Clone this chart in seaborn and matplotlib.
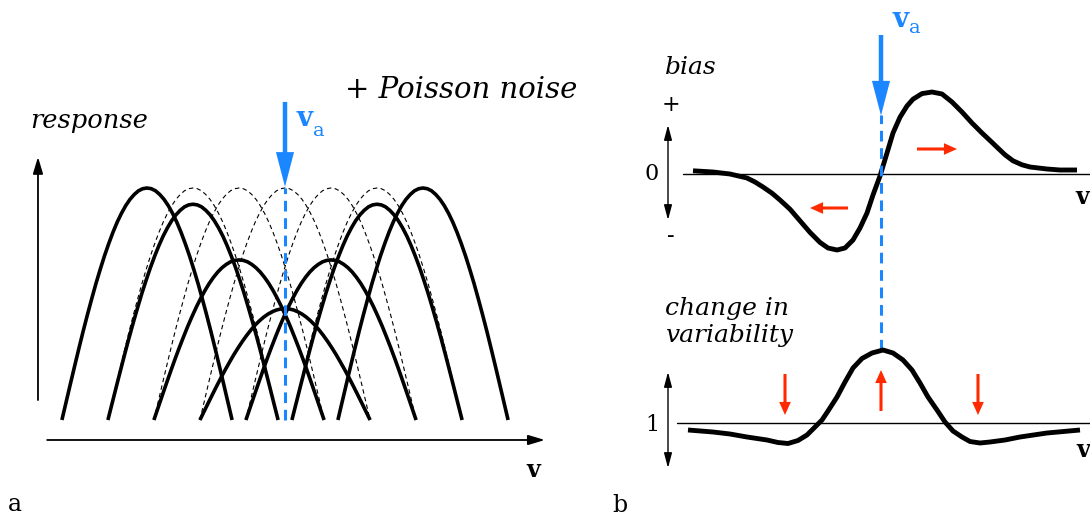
import numpy as np
import pandas as pd
import matplotlib
matplotlib.use("Agg")
import matplotlib.pyplot as plt
import seaborn as sns

# ---------------- data ----------------
# panel a: tuning curves, preferred stimuli in units of neuron spacing, adaptor v_a at 0
adapted_centers = [-3, -2, -1, 0, 1, 2, 3]
adapted_peaks = [1.00, 0.93, 0.69, 0.48, 0.69, 0.93, 1.00]
unadapted_centers = [-2, -1, 0, 1, 2]
unadapted_peaks = [1.00, 1.00, 1.00, 1.00, 1.00]
tuning_halfwidth = 1.85
profile_u = [-1.0, -0.95, -0.9, -0.85, -0.8, -0.75, -0.7, -0.65, -0.6, -0.55, -0.5,
             -0.45, -0.4, -0.35, -0.3, -0.25, -0.2, -0.15, -0.1, -0.05, 0.0,
             0.05, 0.1, 0.15, 0.2, 0.25, 0.3, 0.35, 0.4, 0.45, 0.5,
             0.55, 0.6, 0.65, 0.7, 0.75, 0.8, 0.85, 0.9, 0.95, 1.0]
profile_r = [0.000, 0.078, 0.156, 0.233, 0.309, 0.383, 0.454, 0.522, 0.588, 0.649, 0.707,
             0.760, 0.809, 0.853, 0.891, 0.924, 0.951, 0.972, 0.988, 0.997, 1.000,
             0.997, 0.988, 0.972, 0.951, 0.924, 0.891, 0.853, 0.809, 0.760, 0.707,
             0.649, 0.588, 0.522, 0.454, 0.383, 0.309, 0.233, 0.156, 0.078, 0.000]

# panel b (top): bias of the estimate as a function of v
bias_v = [-3.76, -3.36, -3.02, -2.68, -2.52, -2.36, -2.18, -2.02, -1.82, -1.62, -1.42,
          -1.22, -1.06, -0.88, -0.72, -0.56, -0.42, -0.28, -0.16, -0.02, 0.12, 0.24,
          0.38, 0.52, 0.64, 0.82, 1.02, 1.22, 1.42, 1.62, 1.82, 2.02, 2.22, 2.32, 2.48,
          2.64, 2.82, 2.98, 3.32, 3.58, 3.92]
bias_val = [0.04, 0.025, 0.00, -0.05, -0.10, -0.1625, -0.24, -0.325, -0.44, -0.585, -0.73,
            -0.855, -0.925, -0.95, -0.925, -0.825, -0.675, -0.4875, -0.2625, -0.025, 0.2625, 0.5125,
            0.71, 0.85, 0.935, 1.005, 1.025, 1.00, 0.90, 0.775, 0.6375, 0.5125, 0.395, 0.335, 0.24,
            0.165, 0.115, 0.0875, 0.0625, 0.05, 0.05]

# panel b (bottom): change in variability as a function of v
var_v = [-3.86, -3.36, -3.02, -2.68, -2.28, -2.06, -1.86, -1.66, -1.48, -1.32, -1.18,
         -1.06, -0.88, -0.72, -0.56, -0.38, -0.18, 0.04, 0.24, 0.44, 0.62, 0.78, 0.94,
         1.12, 1.28, 1.44, 1.62, 1.78, 1.98, 2.18, 2.48, 2.78, 3.32, 3.98]
var_val = [0.93, 0.91, 0.89, 0.86, 0.83, 0.805, 0.795, 0.825, 0.88, 0.96, 1.03,
           1.12, 1.26, 1.41, 1.55, 1.645, 1.70, 1.73, 1.70, 1.63, 1.53, 1.40, 1.26,
           1.13, 1.01, 0.92, 0.86, 0.815, 0.80, 0.81, 0.83, 0.86, 0.90, 0.93]

# text
panel_labels = ["a", "b"]
txt_response = "response"
txt_noise = "+ Poisson noise"
txt_bias = "bias"
txt_var = "change in\nvariability"
bias_ticks = ["+", "0", "-"]
var_tick = "1"
axis_label = "v"

# ---------------- style ----------------
sns.set_theme(style="white")
plt.rcParams["font.family"] = ["DejaVu Serif", "DejaVu Sans"]
plt.rcParams["text.color"] = "black"

BLUE = "#1a86ff"
RED = "#ff2a00"
W, H = 1090, 516
fig = plt.figure(figsize=(W / 100, H / 100), dpi=100)
fig.patch.set_facecolor("white")

line_kw = dict(sort=False, estimator=None, solid_joinstyle="round", solid_capstyle="butt")

# ---------------- panel a ----------------
axA = fig.add_axes([0, 0, 600 / W, 1])
axA.set_xlim(-285 / 46, 315 / 46)
axA.set_ylim(-96 / 232, 420 / 232)
axA.axis("off")

u = np.array(profile_u)
r = np.array(profile_r)
for c, p in zip(unadapted_centers, unadapted_peaks):
    sns.lineplot(x=c + u * tuning_halfwidth, y=p * r, ax=axA, color="black",
                 lw=0.8, linestyle=(0, (4, 3)), sort=False, estimator=None, zorder=2)
for c, p in zip(adapted_centers, adapted_peaks):
    sns.lineplot(x=c + u * tuning_halfwidth, y=p * r, ax=axA, color="black",
                 lw=2.6, zorder=3, **line_kw)

# axes arrows
axA.annotate("", xy=(-5.37, 1.134), xytext=(-5.37, 0.086),
             arrowprops=dict(arrowstyle="-|>,head_length=0.5,head_width=0.15", lw=1.3,
                             color="black", mutation_scale=20, shrinkA=0, shrinkB=0))
axA.annotate("", xy=(5.65, -0.0862), xytext=(-5.17, -0.0862),
             arrowprops=dict(arrowstyle="-|>,head_length=0.5,head_width=0.15", lw=1.3,
                             color="black", mutation_scale=20, shrinkA=0, shrinkB=0))
# adaptor
axA.plot([0, 0], [0, 1.0], color=BLUE, lw=2.2, linestyle=(0, (3.5, 2.2)), zorder=4)
axA.annotate("", xy=(0, 1.005), xytext=(0, 1.371),
             arrowprops=dict(arrowstyle="simple,head_length=1.25,head_width=0.65,tail_width=0.16",
                             color=BLUE, lw=0, mutation_scale=20, shrinkA=0, shrinkB=0), zorder=5)
axA.text(0.25, 1.30, "v", color=BLUE, fontsize=20, fontweight="bold", ha="left", va="center")
axA.text(0.60, 1.245, "a", color=BLUE, fontsize=14, ha="left", va="center")

axA.text(-5.54, 1.293, txt_response, fontsize=18.5, style="italic", ha="left", va="center")
axA.text(1.30, 1.422, txt_noise, fontsize=21, style="italic", ha="left", va="center")
axA.text(5.39, -0.216, axis_label, fontsize=17, fontweight="bold", ha="center", va="center")
axA.text(-5.87, -0.366, panel_labels[0], fontsize=17, ha="center", va="center")

# ---------------- panel b top: bias ----------------
axB = fig.add_axes([600 / W, (H - 360) / H, 490 / W, 360 / H])
axB.set_xlim(-281 / 50, 209 / 50)
axB.set_ylim(-186 / 80, 174 / 80)
axB.axis("off")
axB.patch.set_alpha(0)

axB.plot([-3.96, 4.3], [0, 0], color="black", lw=1.0, zorder=2)
sns.lineplot(x=bias_v, y=bias_val, ax=axB, color="black", lw=3.5, zorder=3, **line_kw)
axB.plot([0, 0], [-2.2, 0.74], color=BLUE, lw=2.2, linestyle=(0, (3.5, 2.2)), zorder=4)
axB.annotate("", xy=(0, 0.73), xytext=(0, 1.7375),
             arrowprops=dict(arrowstyle="simple,head_length=1.25,head_width=0.65,tail_width=0.16",
                             color=BLUE, lw=0, mutation_scale=20, shrinkA=0, shrinkB=0), zorder=5)
axB.text(0.23, 1.93, "v", color=BLUE, fontsize=20, fontweight="bold", ha="left", va="center")
axB.text(0.57, 1.825, "a", color=BLUE, fontsize=14, ha="left", va="center")

red_style = "simple,head_length=0.47,head_width=0.42,tail_width=0.11"
axB.annotate("", xy=(-1.42, -0.425), xytext=(-0.66, -0.425),
             arrowprops=dict(arrowstyle=red_style, color=RED, lw=0, mutation_scale=20,
                             shrinkA=0, shrinkB=0))
axB.annotate("", xy=(1.52, 0.3125), xytext=(0.72, 0.3125),
             arrowprops=dict(arrowstyle=red_style, color=RED, lw=0, mutation_scale=20,
                             shrinkA=0, shrinkB=0))

axB.annotate("", xy=(-4.26, 0.6125), xytext=(-4.26, -0.575),
             arrowprops=dict(arrowstyle="<|-|>,head_length=0.45,head_width=0.12", lw=1.0,
                             color="black", mutation_scale=20, shrinkA=0, shrinkB=0))
axB.text(-4.32, 1.325, txt_bias, fontsize=18, style="italic", ha="left", va="center")
axB.text(-4.2, 0.86, bias_ticks[0], fontsize=16, ha="center", va="center")
axB.text(-4.58, 0.0, bias_ticks[1], fontsize=16, ha="center", va="center")
axB.text(-4.2, -0.78, bias_ticks[2], fontsize=16, ha="center", va="center")
axB.text(4.02, -0.29, axis_label, fontsize=17, fontweight="bold", ha="center", va="center")

# ---------------- panel b bottom: variability ----------------
axC = fig.add_axes([600 / W, 0, 490 / W, 246 / H])
axC.set_xlim(-281 / 50, 209 / 50)
axC.set_ylim(1 - 93 / 100, 1 + 153 / 100)
axC.axis("off")
axC.patch.set_alpha(0)

axC.plot([-4.08, 4.3], [1, 1], color="black", lw=1.0, zorder=2)
sns.lineplot(x=var_v, y=var_val, ax=axC, color="black", lw=3.5, zorder=3, **line_kw)
for xa, y0, y1 in [(-1.92, 1.49, 1.08), (0.0, 1.12, 1.53), (1.94, 1.49, 1.08)]:
    axC.annotate("", xy=(xa, y1), xytext=(xa, y0),
                 arrowprops=dict(arrowstyle=red_style, color=RED, lw=0, mutation_scale=20,
                                 shrinkA=0, shrinkB=0))
axC.annotate("", xy=(-4.26, 1.51), xytext=(-4.26, 0.55),
             arrowprops=dict(arrowstyle="<|-|>,head_length=0.45,head_width=0.12", lw=1.0,
                             color="black", mutation_scale=20, shrinkA=0, shrinkB=0))
axC.text(-4.32, 2.01, txt_var, fontsize=18, style="italic", ha="left", va="center",
         linespacing=1.25)
axC.text(-4.58, 0.98, var_tick, fontsize=16, ha="center", va="center")
axC.text(4.04, 0.73, axis_label, fontsize=17, fontweight="bold", ha="center", va="center")
axC.text(-5.22, 0.18, panel_labels[1], fontsize=17, ha="center", va="center")

fig.savefig("out.png", dpi=100, facecolor="white")
